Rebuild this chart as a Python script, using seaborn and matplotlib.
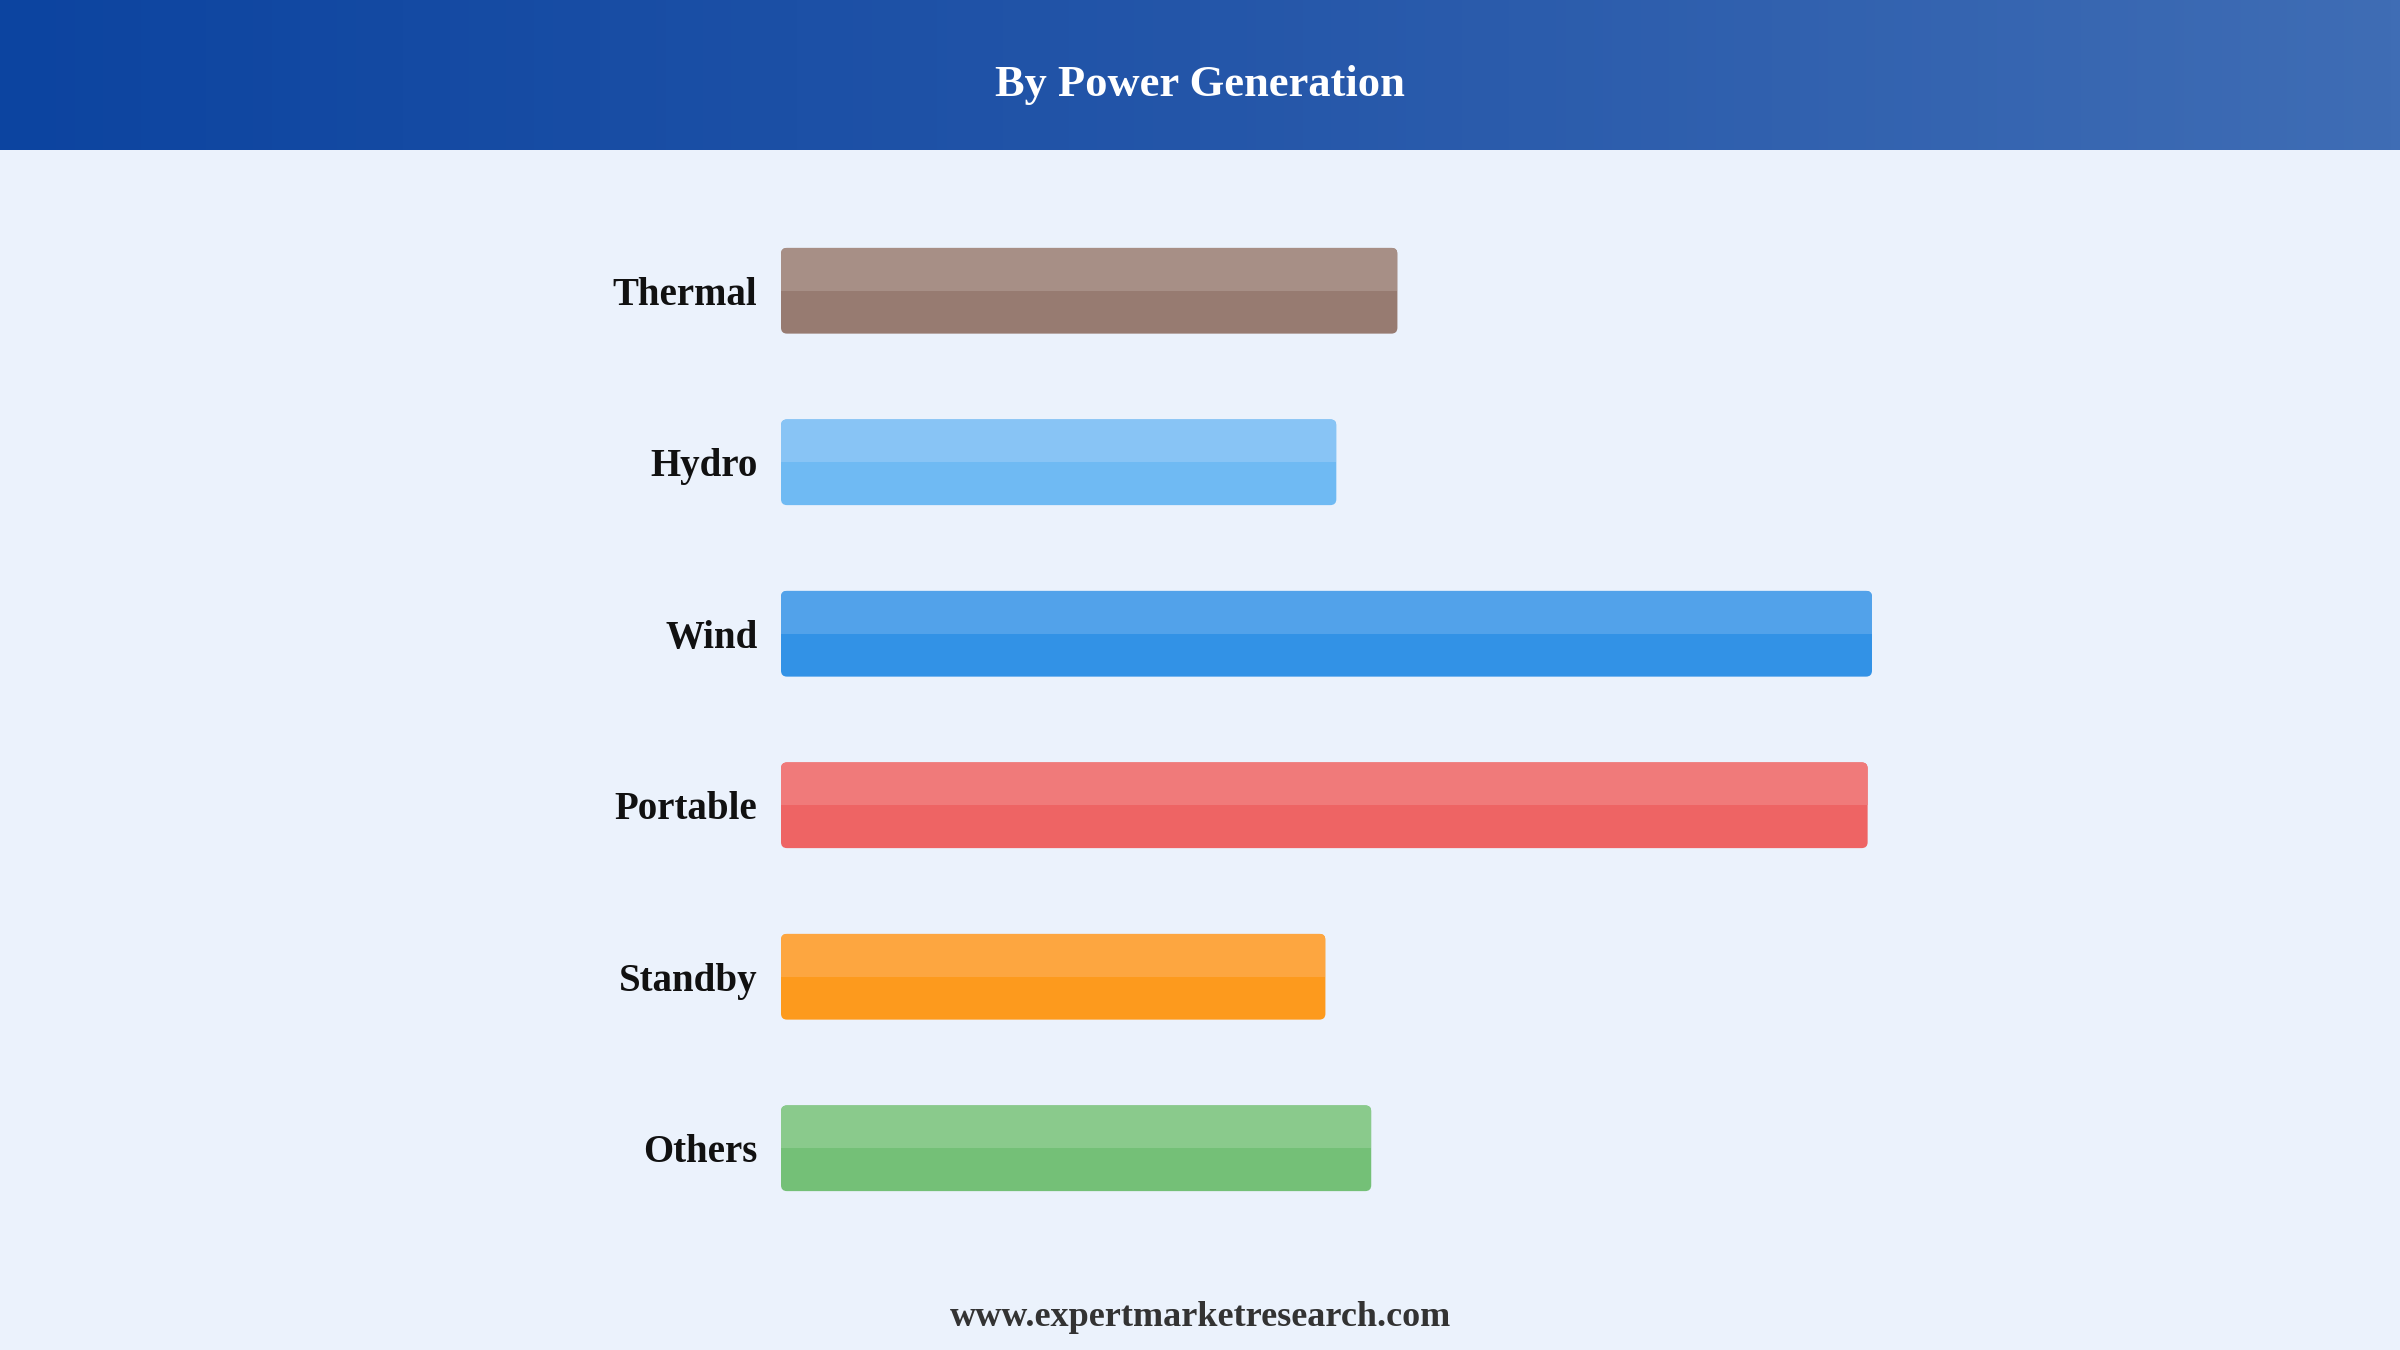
import numpy as np
import pandas as pd
import matplotlib
matplotlib.use("Agg")
import matplotlib.pyplot as plt
from matplotlib.colors import LinearSegmentedColormap
from matplotlib.patches import FancyBboxPatch, Rectangle
import seaborn as sns

# data (relative bar lengths, Wind = 100)
categories = ["Thermal", "Hydro", "Wind", "Portable", "Standby", "Others"]
values = [56.5, 50.9, 100.0, 99.6, 49.9, 54.1]

# colours: lower (darker) half and upper (lighter) half of each bar
dark_colors = ["#977B71", "#6FBAF3", "#3292E6", "#EE6464", "#FD9A1D", "#74C077"]
light_colors = ["#A78F86", "#88C4F5", "#52A2EA", "#F07A7A", "#FDA640", "#8ACA8C"]

title = "By Power Generation"
footer = "www.expertmarketresearch.com"

bg = "#EBF2FC"

sns.set_theme(style="white")
plt.rcParams["font.family"] = ["Liberation Serif", "DejaVu Serif"]

W, H = 2400, 1350
fig = plt.figure(figsize=(24, 13.5), dpi=100, facecolor=bg)

# header band with a horizontal gradient
hax = fig.add_axes([0, 1 - 150 / H, 1, 150 / H])
grad = np.linspace(0, 1, 256).reshape(1, -1)
cmap = LinearSegmentedColormap.from_list("hdr", ["#0C44A0", "#2456A9", "#3F6DB5"])
hax.imshow(grad, aspect="auto", cmap=cmap, extent=[0, 1, 0, 1])
hax.set_axis_off()
fig.text(0.5, 1 - 85 / H, title, ha="center", va="center", fontsize=32,
         fontweight="bold", color="white")

# main bar chart
ax = fig.add_axes([781 / W, 1 - 1234 / H, (1872 - 781) / W, (1234 - 205) / H])
ax.set_facecolor(bg)
df = pd.DataFrame({"category": categories, "value": values})
sns.barplot(data=df, x="value", y="category", hue="category", palette=dark_colors,
            legend=False, orient="h", width=0.5, ax=ax)
ax.set_xlim(0, 100)
ax.set_ylim(5.5, -0.5)

# rounded two-tone bars built from seaborn's bar geometry
fig.canvas.draw()
px_per_x = ax.transData.transform((1, 0))[0] - ax.transData.transform((0, 0))[0]
px_per_y = abs(ax.transData.transform((0, 1))[1] - ax.transData.transform((0, 0))[1])
radius_px = 6
bars = list(ax.patches)
for i, p in enumerate(bars):
    x0, y0 = p.get_x(), p.get_y()
    w, h = p.get_width(), p.get_height()
    p.set_visible(False)
    body = FancyBboxPatch((x0, y0), w, h,
                          boxstyle=f"round,pad=0,rounding_size={radius_px / px_per_x}",
                          mutation_aspect=px_per_x / px_per_y,
                          facecolor=dark_colors[i], edgecolor="none", zorder=3)
    ax.add_patch(body)
    top = Rectangle((x0, y0), w, h / 2, facecolor=light_colors[i],
                    edgecolor="none", zorder=4)
    ax.add_patch(top)
    top.set_clip_path(body)

ax.set_xlabel("")
ax.set_ylabel("")
ax.set_xticks([])
ax.tick_params(axis="y", length=0, pad=17)
for lbl in ax.get_yticklabels():
    lbl.set_fontsize(28)
    lbl.set_fontweight("bold")
    lbl.set_color("#111111")
sns.despine(ax=ax, left=True, bottom=True)

fig.text(0.5, 1 - 1318 / H, footer, ha="center", va="center", fontsize=26,
         fontweight="bold", color="#333333")

plt.savefig("out.png", dpi=100, facecolor=bg)
plt.close()
